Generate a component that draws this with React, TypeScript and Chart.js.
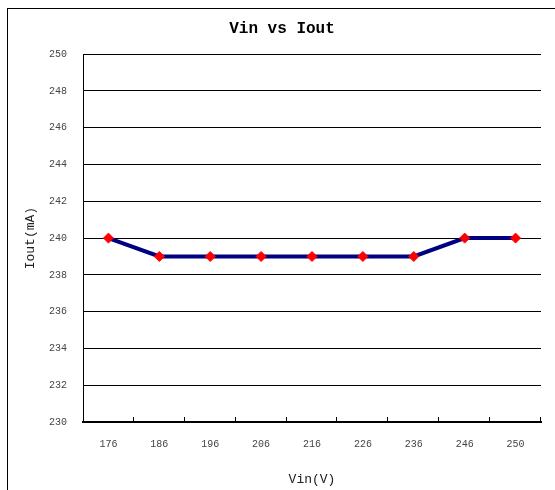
import React, { useEffect, useRef } from "react";
import { Chart, registerables } from "chart.js";

Chart.register(...registerables);

const categories = ["176", "186", "196", "206", "216", "226", "236", "246", "250"];
const ioutValues = [240, 239, 239, 239, 239, 239, 239, 240, 240];
const yMin = 230;
const yMax = 250;
const yStep = 2;

const FONT = "'Liberation Mono', 'DejaVu Sans Mono', monospace";

const innerTicks = {
  id: "innerTicks",
  afterDraw(chart: any) {
    const { ctx, chartArea } = chart;
    const n = categories.length;
    const w = (chartArea.right - chartArea.left) / n;
    ctx.save();
    ctx.strokeStyle = "#000";
    ctx.lineWidth = 1;
    ctx.beginPath();
    for (let i = 1; i <= n; i++) {
      const x = Math.round(chartArea.left + i * w) - 0.5;
      ctx.moveTo(x, chartArea.bottom);
      ctx.lineTo(x, chartArea.bottom - 5);
    }
    ctx.stroke();
    ctx.restore();
  },
};

export default function App() {
  const ref = useRef<HTMLCanvasElement>(null);
  useEffect(() => {
    if (!ref.current) return;
    const chart = new Chart(ref.current, {
      type: "line",
      data: {
        labels: categories,
        datasets: [
          {
            label: "Iout",
            data: ioutValues,
            borderColor: "#000080",
            borderWidth: 4,
            pointStyle: "rectRot",
            pointRadius: 5,
            pointBackgroundColor: "#ff0000",
            pointBorderColor: "#ff0000",
            pointBorderWidth: 1,
            tension: 0,
          },
        ],
      },
      options: {
        responsive: false,
        animation: false,
        layout: { padding: { left: 23, right: 14, top: 0, bottom: 0 } },
        plugins: {
          legend: { display: false },
          tooltip: { enabled: false },
          title: {
            display: true,
            text: "Vin vs Iout",
            color: "#000",
            font: { family: FONT, size: 16, weight: "bold" },
            padding: { top: 19, bottom: 16 },
          },
        },
        scales: {
          x: {
            offset: true,
            grid: { display: true, drawOnChartArea: false, drawTicks: false, offset: true },
            border: { display: true, color: "#000", width: 2 },
            ticks: {
              color: "#444",
              font: { family: FONT, size: 10 },
              padding: 16,
              maxRotation: 0,
            },
            title: {
              display: true,
              text: "Vin(V)",
              color: "#222",
              font: { family: FONT, size: 13 },
              padding: { top: 0, bottom: 3 },
            },
            afterFit(scale: any) {
              scale.height = 68;
            },
          },
          y: {
            min: yMin,
            max: yMax,
            grid: { color: "#000", lineWidth: 1, drawTicks: false },
            border: { display: true, color: "#000", width: 1 },
            ticks: {
              stepSize: yStep,
              color: "#444",
              font: { family: FONT, size: 10 },
              padding: 16,
            },
            title: {
              display: true,
              text: "Iout(mA)",
              color: "#222",
              font: { family: FONT, size: 13 },
              padding: { top: 0, bottom: 0 },
            },
            afterFit(scale: any) {
              scale.width = 60;
            },
          },
        },
      },
      plugins: [innerTicks],
    });
    return () => chart.destroy();
  }, []);

  return (
    <div>
      <div
        style={{
          position: "fixed",
          left: 7,
          top: 8,
          width: 548,
          height: 482,
          boxSizing: "border-box",
          borderLeft: "1px solid #000",
          borderTop: "1px solid #000",
          pointerEvents: "none",
        }}
      />
      <canvas
        ref={ref}
        width={555}
        height={490}
        style={{ position: "fixed", left: 0, top: 0, width: 555, height: 490 }}
      />
    </div>
  );
}
